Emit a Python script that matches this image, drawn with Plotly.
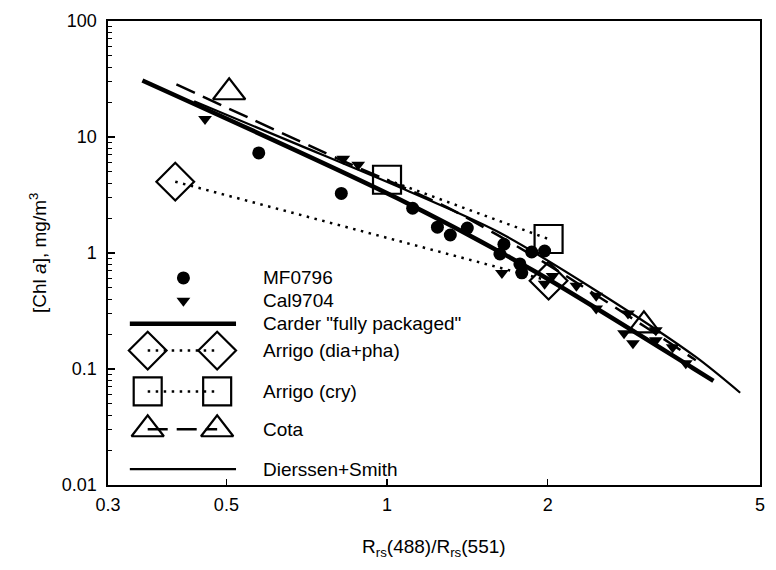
import plotly.graph_objects as go

# ---------------- data ----------------
mf_x = [0.575, 0.821, 1.117, 1.243, 1.314, 1.414, 1.656, 1.628, 1.774, 1.789, 1.867, 1.974]
mf_y = [7.29, 3.26, 2.43, 1.67, 1.43, 1.64, 1.19, 0.98, 0.805, 0.675, 1.02, 1.04]

cal_x = [0.456, 0.828, 0.883, 1.642, 1.974, 2.043, 2.264, 2.466, 2.466, 2.829, 2.781, 2.89, 3.19, 3.19, 3.43, 3.63]
cal_y = [14.3, 6.49, 5.77, 0.674, 0.543, 0.635, 0.522, 0.428, 0.332, 0.301, 0.203, 0.167, 0.216, 0.177, 0.154, 0.112]

carder_x = [0.348, 1.048, 1.883, 3.74, 4.09]
carder_y = [30.7, 2.95, 0.702, 0.102, 0.079]

dierssen_x = [0.435, 0.683, 1.048, 1.607, 2.466, 3.79, 4.59]
dierssen_y = [20.3, 8.55, 3.74, 1.54, 0.473, 0.127, 0.0624]

cota_line_x = [0.403, 0.810, 1.297, 1.991, 3.055, 3.79]
cota_line_y = [28.4, 6.49, 2.47, 0.805, 0.229, 0.119]
cota_x = [0.506, 3.03]
cota_y = [24.3, 0.238]

arrigo_dp_x = [0.401, 2.008]
arrigo_dp_y = [4.12, 0.577]

arrigo_cry_x = [1.0, 2.008]
arrigo_cry_y = [4.28, 1.32]

x_tickvals = [0.3, 0.5, 1, 2, 5]
x_ticktext = ["0.3", "0.5", "1", "2", "5"]
y_tickvals = [0.01, 0.1, 1, 10, 100]
y_ticktext = ["0.01", "0.1", "1", "10", "100"]

legend_labels = ["MF0796", "Cal9704", 'Carder "fully packaged"', "Arrigo (dia+pha)",
                 "Arrigo (cry)", "Cota", "Dierssen+Smith"]

# ---------------- styling / layout ----------------
FONT = "Liberation Sans, Arial, sans-serif"
W, H = 776, 570
L, R, T, B = 108, 11, 19, 85
DOT = "2.5px,5.5px"
LDASH = "20px,9px"

fig = go.Figure()

# model curves
fig.add_trace(go.Scatter(x=dierssen_x, y=dierssen_y, mode="lines",
                         line=dict(color="black", width=2.2, shape="spline", smoothing=0.8)))
fig.add_trace(go.Scatter(x=cota_line_x, y=cota_line_y, mode="lines",
                         line=dict(color="black", width=2.5, dash=LDASH, shape="spline", smoothing=0.8)))
fig.add_trace(go.Scatter(x=carder_x, y=carder_y, mode="lines",
                         line=dict(color="black", width=4.5, shape="spline", smoothing=0.8)))
fig.add_trace(go.Scatter(x=arrigo_dp_x, y=arrigo_dp_y, mode="lines+markers",
                         line=dict(color="black", width=2.5, dash=DOT),
                         marker=dict(symbol="diamond-open", size=29, color="black",
                                     line=dict(width=2.2, color="black"))))
fig.add_trace(go.Scatter(x=arrigo_cry_x, y=arrigo_cry_y, mode="lines+markers",
                         line=dict(color="black", width=2.5, dash=DOT),
                         marker=dict(symbol="square-open", size=28, color="black",
                                     line=dict(width=2.2, color="black"))))
fig.add_trace(go.Scatter(x=cota_x, y=cota_y, mode="markers",
                         marker=dict(symbol="triangle-up-open", size=28, color="black",
                                     line=dict(width=2.2, color="black"))))
# observations
fig.add_trace(go.Scatter(x=mf_x, y=mf_y, mode="markers",
                         marker=dict(symbol="circle", size=13, color="black")))
fig.add_trace(go.Scatter(x=cal_x, y=cal_y, mode="markers",
                         marker=dict(symbol="triangle-down", size=12, color="black")))

# ---------------- hand-drawn legend (overlay pixel axes) ----------------
lx1, lx2, lxa, lxb, ltext = 148, 218, 130, 237, 262
rows = [277, 300, 323, 350, 391, 429, 469]


def leg(xs, ys, **kw):
    fig.add_trace(go.Scatter(x=xs, y=ys, xaxis="x2", yaxis="y2", **kw))


leg([(lx1 + lx2) / 2 + 1], [rows[0]], mode="markers",
    marker=dict(symbol="circle", size=13, color="black"))
leg([(lx1 + lx2) / 2 + 1], [rows[1]], mode="markers",
    marker=dict(symbol="triangle-down", size=12, color="black"))
leg([lxa, lxb], [rows[2], rows[2]], mode="lines", line=dict(color="black", width=4.5))
leg([lx1, lx2], [rows[3], rows[3]], mode="lines+markers",
    line=dict(color="black", width=2.5, dash=DOT),
    marker=dict(symbol="diamond-open", size=29, color="black", line=dict(width=2.2, color="black")))
leg([lx1, lx2], [rows[4], rows[4]], mode="lines+markers",
    line=dict(color="black", width=2.5, dash=DOT),
    marker=dict(symbol="square-open", size=28, color="black", line=dict(width=2.2, color="black")))
leg([lx1, lx2], [rows[5], rows[5]], mode="lines",
    line=dict(color="black", width=2.5, dash=LDASH))
leg([lx1, lx2], [rows[5], rows[5]], mode="markers",
    marker=dict(symbol="triangle-up-open", size=28, color="black", line=dict(width=2.2, color="black")))
leg([lxa, lxb], [rows[6], rows[6]], mode="lines", line=dict(color="black", width=2.2))

annotations = []
for lab, ry in zip(legend_labels, rows):
    annotations.append(dict(text=lab, x=ltext, y=ry, xref="x2", yref="y2",
                            xanchor="left", yanchor="middle", showarrow=False,
                            font=dict(family=FONT, size=19, color="black")))

# axis titles
annotations.append(dict(text="[Chl <i>a</i>], mg/m<sup>3</sup>", xref="paper", yref="paper",
                        x=0, y=0.5, xshift=-70, textangle=-90, showarrow=False,
                        xanchor="center", yanchor="middle",
                        font=dict(family=FONT, size=19, color="black")))
annotations.append(dict(text="R<sub>rs</sub>(488)/R<sub>rs</sub>(551)", xref="paper", yref="paper",
                        x=0.5, y=0, yshift=-63, showarrow=False,
                        xanchor="center", yanchor="middle",
                        font=dict(family=FONT, size=19, color="black")))

minor_y = [m * 10 ** e for e in range(-2, 2) for m in range(2, 10)]

fig.update_layout(
    width=W, height=H,
    margin=dict(l=L, r=R, t=T, b=B, pad=0),
    paper_bgcolor="white", plot_bgcolor="white",
    showlegend=False,
    hovermode=False,
    font=dict(family=FONT, color="black"),
    xaxis=dict(type="log", range=[-0.5228787, 0.69897], tickmode="array",
               tickvals=x_tickvals, ticktext=x_ticktext,
               ticks="inside", ticklen=6, tickwidth=1.5, tickcolor="black",
               showline=True, linewidth=1.6, linecolor="black", mirror=True,
               showgrid=False, zeroline=False,
               tickfont=dict(family=FONT, size=18, color="black"),
               ticklabelstandoff=3),
    yaxis=dict(type="log", range=[-2, 2], tickmode="array",
               tickvals=y_tickvals, ticktext=y_ticktext,
               ticks="inside", ticklen=7, tickwidth=1.5, tickcolor="black",
               minor=dict(tickmode="array", tickvals=minor_y, ticks="inside",
                          ticklen=4, tickwidth=1, tickcolor="black", showgrid=False),
               showline=True, linewidth=1.6, linecolor="black", mirror=True,
               showgrid=False, zeroline=False,
               tickfont=dict(family=FONT, size=18, color="black"),
               ticklabelstandoff=6),
    xaxis2=dict(overlaying="x", range=[L, W - R], visible=False, showgrid=False, zeroline=False),
    yaxis2=dict(overlaying="y", range=[H - B, T], visible=False, showgrid=False, zeroline=False),
    annotations=annotations,
)

fig.write_html("out.html", config={"displayModeBar": False, "staticPlot": True},
               post_script="document.body.style.margin='0';document.body.style.padding='0';")
